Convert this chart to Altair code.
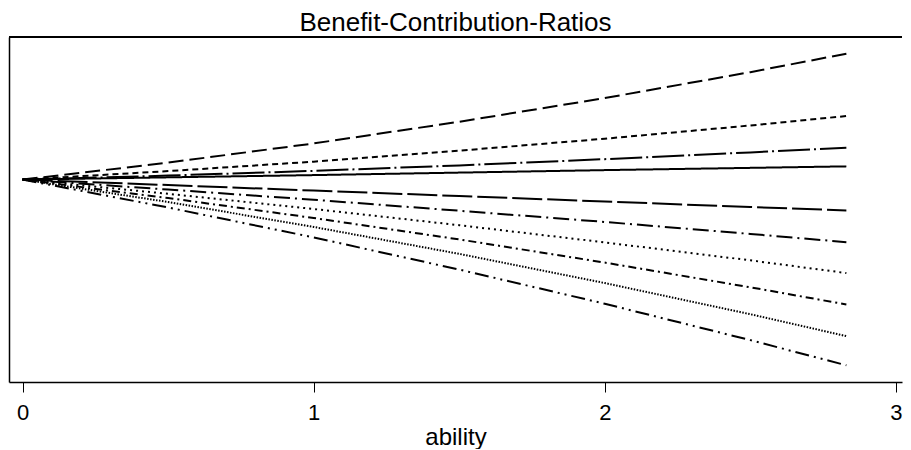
import altair as alt
import pandas as pd

ability = [0.0, 0.5, 1.0, 1.5, 2.0, 2.5, 2.83]

# benefit-contribution ratios (arbitrary units, all start at 1.0)
s1 = [1.0, 1.068, 1.145, 1.232, 1.327, 1.431, 1.505]
s2 = [1.0, 1.034, 1.072, 1.116, 1.164, 1.217, 1.255]
s3 = [1.0, 1.016, 1.035, 1.057, 1.082, 1.109, 1.128]
s4 = [1.0, 1.009, 1.018, 1.028, 1.038, 1.047, 1.053]
s5 = [1.0, 0.978, 0.956, 0.934, 0.912, 0.890, 0.876]
s6 = [1.0, 0.960, 0.919, 0.875, 0.830, 0.782, 0.749]
s7 = [1.0, 0.943, 0.882, 0.817, 0.748, 0.676, 0.625]
s8 = [1.0, 0.926, 0.846, 0.760, 0.667, 0.568, 0.499]
s9 = [1.0, 0.910, 0.810, 0.702, 0.585, 0.460, 0.372]
s10 = [1.0, 0.888, 0.768, 0.639, 0.502, 0.356, 0.255]

series = {"s1": s1, "s2": s2, "s3": s3, "s4": s4, "s5": s5,
          "s6": s6, "s7": s7, "s8": s8, "s9": s9, "s10": s10}
names = list(series.keys())

dashes = [[15, 6], [6, 4], [32, 4, 2, 4], [1, 0], [30, 5],
          [16, 5, 2, 5], [2, 4], [8, 4, 2, 4], [1.5, 1.5],
          [14, 5, 2, 5, 2, 5]]

rows = []
for n, vals in series.items():
    for a, v in zip(ability, vals):
        rows.append({"ability": a, "ratio": v, "series": n})
df = pd.DataFrame(rows)

W, H = 893, 345
FONT = "Liberation Sans"

lines = alt.Chart(df).mark_line(color="black", strokeWidth=2).encode(
    x=alt.X("ability:Q",
            scale=alt.Scale(domain=[-0.0467, 3.0211], nice=False, zero=False),
            axis=alt.Axis(values=[0, 1, 2, 3], format="d", title="ability",
                          grid=False, tickSize=10, tickColor="black",
                          domainColor="black", domainWidth=1.5,
                          labelFontSize=22, labelFont=FONT, labelColor="black",
                          labelPadding=10, titleFontSize=24, titleFont=FONT,
                          titleFontWeight="normal", titleColor="black",
                          titlePadding=2)),
    y=alt.Y("ratio:Q",
            scale=alt.Scale(domain=[0.188, 1.572], nice=False, zero=False),
            axis=alt.Axis(labels=False, ticks=False, grid=False, title=None,
                          domainColor="black", domainWidth=1.5)),
    strokeDash=alt.StrokeDash("series:N",
                              scale=alt.Scale(domain=names, range=dashes),
                              legend=None),
    detail="series:N",
)

top_border = alt.Chart(df).mark_rule(color="black", strokeWidth=1.5).encode(
    x=alt.value(0), x2=alt.value(W), y=alt.value(0)
)

chart = alt.layer(lines, top_border).properties(
    width=W, height=H,
    padding={"left": 0, "top": 2, "right": 0, "bottom": 0},
    title=alt.TitleParams("Benefit-Contribution-Ratios", font=FONT,
                          fontSize=26, fontWeight="normal", color="black",
                          anchor="middle", offset=0),
).configure_view(stroke=None)

chart.save("out.html", embed_options={"renderer": "svg", "actions": False})
